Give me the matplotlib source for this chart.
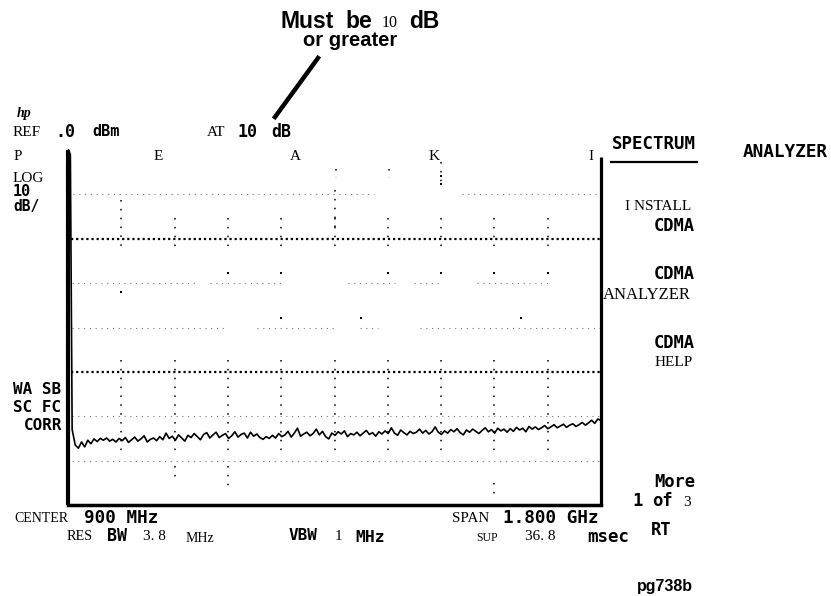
import numpy as np
import matplotlib
matplotlib.use("Agg")
import matplotlib.pyplot as plt

W, H = 831, 596

# ---------------- data ----------------
ref_level_dbm = 0.0
db_per_div = 10
n_ydiv = 8
center_mhz = 900
span_mhz = 1800

# LO feedthrough spike at start of sweep
spike_freq_mhz = [2, 8, 12]
spike_level_dbm = [0.0, -1.0, -40.0]

# noise floor trace (dBm), read along the sweep, 14 MHz .. 1800 MHz
noise_level_dbm = [
    -63.0, -66.5, -67.2, -65.8, -66.9, -65.4, -66.2, -65.1, -65.7, -65.0,
    -65.4, -64.9, -65.6, -65.2, -65.8, -65.0, -65.5, -64.8, -65.9, -65.3,
    -64.7, -65.6, -65.1, -64.4, -65.8, -65.2, -64.9, -65.5, -64.6, -65.3,
    -63.8, -65.0, -64.5, -65.4, -64.2, -64.9, -65.6, -64.3, -64.8, -63.9,
    -64.6, -65.3, -64.1, -63.7, -64.9, -64.2, -63.6, -64.8, -64.3, -63.9,
    -65.0, -64.4, -63.5, -64.7, -64.1, -63.8, -64.9, -63.6, -64.5, -64.0,
    -64.8, -65.2, -64.6, -65.0, -64.3, -64.9, -63.9, -64.6, -64.2, -63.4,
    -64.7, -63.8, -62.7, -64.5, -64.0, -63.6, -64.4, -63.9, -62.9, -64.2,
    -63.4, -64.6, -65.1, -63.8, -64.3, -63.5, -64.0, -63.3, -64.6, -63.9,
    -64.2, -63.6, -64.4, -63.8, -63.2, -64.1, -63.7, -64.5, -63.5, -64.0,
    -63.3, -63.9, -62.6, -63.8, -64.3, -63.1, -63.7, -64.2, -63.4, -63.9,
    -63.6, -62.9, -63.8, -63.2, -64.0, -63.5, -62.4, -63.6, -64.1, -63.3,
    -63.8, -63.0, -63.5, -62.8, -63.7, -64.2, -63.1, -63.6, -62.9, -63.4,
    -63.9, -63.2, -62.6, -63.5, -63.0, -63.8, -62.7, -63.3, -62.9, -63.6,
    -62.8, -63.4, -62.5, -63.1, -62.7, -63.5, -62.3, -62.9, -62.4, -63.0,
    -62.6, -62.1, -62.8, -62.4, -61.9, -62.6, -62.2, -61.8, -62.5, -62.0,
    -61.7, -62.3, -61.9, -61.4, -62.0, -61.5, -60.9, -61.6, -60.6, -61.0,
]
noise_start_mhz = 14
noise_stop_mhz = 1800

# ---------------- figure ----------------
fig = plt.figure(figsize=(W / 100, H / 100), dpi=100)
fig.patch.set_facecolor("white")

x0, x1, y0, y1 = 68, 601, 150, 505
ax = fig.add_axes([x0 / W, 1 - y1 / H, (x1 - x0) / W, (y1 - y0) / H])
f_lo = center_mhz - span_mhz / 2
f_hi = center_mhz + span_mhz / 2
bottom_db = ref_level_dbm - n_ydiv * db_per_div
ax.set_xlim(f_lo, f_hi)
ax.set_ylim(bottom_db, ref_level_dbm)
ax.axis("off")

div = span_mhz / 10.0


def dv(d):
    return f_lo + d * div


def px2db(y):
    return ref_level_dbm - (y - y0) / (y1 - y0) * n_ydiv * db_per_div


# horizontal graticule (partly faded, as in the scan)
light = dict(color="#7a7a7a", lw=0.8, dashes=(1, 4.2))
bold = dict(color="black", lw=1.6, dashes=(1, 1.3))
hlines = {
    -10: ([(0.1, 5.75), (7.4, 9.9)], light),
    -20: ([(0.05, 10.0)], bold),
    -30: ([(0.08, 2.44), (2.66, 4.03), (5.25, 6.14), (6.5, 7.02), (7.67, 9.04)], light),
    -40: ([(0.08, 3.0), (3.55, 5.01), (5.48, 5.82), (6.6, 9.98)], light),
    -50: ([(0.05, 10.0)], bold),
    -60: ([(0.08, 9.98)], light),
    -70: ([(0.08, 9.98)], light),
}
for lvl, (segs, sty) in hlines.items():
    for a, b in segs:
        ax.plot([dv(a), dv(b)], [lvl, lvl], solid_capstyle="butt", **sty)

# vertical graticule ticks
vsty = dict(color="black", lw=1.1, dashes=(1, 4.8))
for k in range(1, 10):
    top = px2db(200) if k == 1 else px2db(218)
    ax.plot([dv(k), dv(k)], [top, px2db(252)], **vsty)
    ax.plot([dv(k), dv(k)], [px2db(360), px2db(452)], **vsty)
extra_v = [
    (5, 190, 228), (7, 162, 188), (5.02, 169, 178), (6.02, 169, 178),
    (2, 466, 480), (3, 466, 490), (8, 483, 497),
]
for k, ya, yb in extra_v:
    ax.plot([dv(k), dv(k)], [px2db(ya), px2db(yb)], **vsty)
iso_dots = [(3, 273), (4, 273), (6, 273), (7, 273), (8, 273), (9, 273),
            (1, 292), (4, 318), (5.5, 318), (8.5, 318), (7, 176), (7, 184)]
for k, yy in iso_dots:
    ax.plot(dv(k), px2db(yy), "s", color="black", ms=1.6, mew=0)

# trace
noise_freq = np.linspace(noise_start_mhz, noise_stop_mhz, len(noise_level_dbm))
tr_f = np.concatenate([spike_freq_mhz, noise_freq])
tr_l = np.concatenate([spike_level_dbm, noise_level_dbm])
ax.plot(tr_f, tr_l, color="black", lw=1.2, clip_on=False)

# frame
ax.plot([f_lo, f_lo], [bottom_db, ref_level_dbm], color="black", lw=3.0,
        solid_capstyle="butt", clip_on=False)
ax.plot([f_hi, f_hi], [bottom_db, px2db(157)], color="black", lw=2.3,
        solid_capstyle="butt", clip_on=False)
ax.plot([f_lo, f_hi], [bottom_db, bottom_db], color="black", lw=2.5,
        solid_capstyle="projecting", clip_on=False)

# ---------------- text ----------------
MONO = "DejaVu Sans Mono"
SERIF = "Liberation Serif"
SANS = "Liberation Sans"


def T(x, y, s, fam=MONO, size=12.3, weight="bold", ha="left", **kw):
    fig.text(x / W, 1 - y / H, s, family=fam, fontsize=size, fontweight=weight,
             ha=ha, va="center", **kw)


def S(x, y, s, size=11, ha="left", **kw):
    T(x, y, s, fam=SERIF, size=size, weight="normal", ha=ha, **kw)


# annotation
T(280, 21, "Must", fam=SANS, size=16.5)
T(345, 21, "be", fam=SANS, size=16.5)
S(382, 23, "10", size=11.5)
T(409, 21, "dB", fam=SANS, size=16.5)
T(350, 41, "or greater", fam=SANS, size=14.5, ha="center")
fig.add_artist(plt.Line2D([318 / W, 275 / W], [1 - 58 / H, 1 - 117 / H],
                          color="black", lw=3.2))

# hp logo
T(17, 114, "hp", fam=SERIF, size=10, style="italic")

# top rows
S(13, 133, "REF")
T(55, 132, ".0", size=12)
T(92, 132, "dBm", size=11)
S(207, 133, "AT")
T(238, 132, "10", size=12)
T(271, 132, "dB", size=12)
S(14, 157, "P")
S(154, 157, "E")
S(290, 157, "A")
S(429, 157, "K")
S(588, 157, "I")
S(13, 178, "LOG")
T(13, 191, "10", size=11)
T(13, 206, "dB/", size=10.5)

# left annunciators
T(13, 390, "WA SB", size=11.5)
T(13, 407, "SC FC", size=11.5)
T(24, 425, "CORR", size=11.5)

# softkeys
T(612, 144, "SPECTRUM", size=12.5)
fig.add_artist(plt.Line2D([611 / W, 697 / W], [1 - 162 / H, 1 - 162 / H],
                          color="black", lw=1.6))
T(743, 152, "ANALYZER", size=12.8)
S(625, 207, "I NSTALL", size=11)
T(695, 226, "CDMA", ha="right")
T(695, 274, "CDMA", ha="right")
S(603, 295, "ANALYZER", size=12)
T(695, 343, "CDMA", ha="right")
S(655, 362, "HELP", size=11)
T(695, 482, "More", ha="right")
T(632, 501, "1")
T(652, 501, "of")
S(683, 503, "3", size=11)
T(651, 530, "RT")

# bottom rows
S(14, 519, "CENTER", size=10)
T(84, 518, "900 MHz", size=12.7)
S(67, 537, "RES", size=10.2)
T(107, 536, "BW", size=12)
S(143, 537, "3. 8", size=11)
S(186, 538, "MHz", size=10)
T(289, 536, "VBW", size=11.5)
S(335, 537, "1", size=11)
T(355, 537, "MHz", size=11.8)
S(452, 519, "SPAN", size=10.8)
T(503, 518, "1.800 GHz", size=12.7)
S(476, 538, "SUP", size=8.5)
S(525, 537, "36. 8", size=11)
T(587, 537, "msec", size=12.5)

T(637, 586, "pg738b", fam=SANS, size=11.5, weight="bold")

fig.savefig("out.png", dpi=100, facecolor="white")
